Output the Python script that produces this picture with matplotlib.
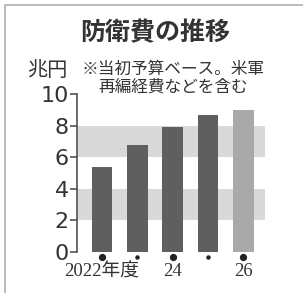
#!/usr/bin/env python3
# -*- coding: utf-8 -*-

import matplotlib
matplotlib.use("Agg")
import matplotlib.pyplot as plt
from matplotlib.lines import Line2D

plt.rcParams['font.family'] = ['Noto Sans CJK JP', 'DejaVu Sans']

# Defence budget per fiscal year (trillion yen)
years = [2022, 2023, 2024, 2025, 2026]
values = [5.4, 6.8, 7.9, 8.7, 9.0]
bar_colors = ['#5f5f5f', '#5f5f5f', '#5f5f5f', '#5f5f5f', '#a9a9a9']
big_dot = [True, False, True, False, True]
x_labels = ['2022年度', '', '24', '', '26']
y_ticks = [0, 2, 4, 6, 8, 10]
bands = [(2, 4), (6, 8)]

title = '防衛費の推移'
unit = '兆円'
note = '※当初予算ベース。米軍\n再編経費などを含む'

TXT = '#333333'

fig = plt.figure(figsize=(3.03, 2.93), dpi=100)
ax = fig.add_axes([0.254, 0.140, 0.620, 0.539])

for lo, hi in bands:
    ax.axhspan(lo, hi, color='#d9d9d9', lw=0, zorder=0)

pos = list(range(len(years)))
ax.bar(pos, values, width=0.58, color=bar_colors, zorder=2)

# dots under the bars
for p, big in zip(pos, big_dot):
    ax.plot(p, -0.33, 'o', color='#222222', ms=4.2 if big else 2.2,
            clip_on=False, zorder=3)

ax.set_xlim(-0.706, 4.607)
ax.set_ylim(0, 10)
ax.set_yticks(y_ticks)
ax.set_yticklabels([str(t) for t in y_ticks], fontsize=16, color=TXT,
                   family=['DejaVu Sans'])
ax.tick_params(axis='y', length=5, width=1.1, color='#444444', pad=1)
ax.set_xticks([])

for side in ['top', 'right', 'bottom']:
    ax.spines[side].set_visible(False)
ax.spines['left'].set_color('#444444')
ax.spines['left'].set_linewidth(1.1)

for p, lab in zip(pos, x_labels):
    if lab:
        ax.text(p, -0.68, lab, ha='center', va='top', fontsize=13.5,
                color=TXT, family=['Liberation Serif', 'Noto Sans CJK JP'],
                clip_on=False)

fig.text(155.5 / 303, 1 - 33 / 293, title, ha='center', va='center',
         fontsize=18, fontweight='bold', color=TXT)
fig.text(47 / 303, 1 - 70 / 293, unit, ha='center', va='center',
         fontsize=14.5, color=TXT)
fig.text(173 / 303, 1 - 78 / 293, note, ha='center', va='center',
         fontsize=12, color=TXT, linespacing=1.1)

# frame lines at left and top
fig.add_artist(Line2D([4.5 / 303, 4.5 / 303], [0, 1 - 4.5 / 293],
                      color='#bbbbbb', lw=1.4))
fig.add_artist(Line2D([4.5 / 303, 1], [1 - 4.5 / 293, 1 - 4.5 / 293],
                      color='#bbbbbb', lw=1.4))

fig.savefig('out.png', dpi=100)
